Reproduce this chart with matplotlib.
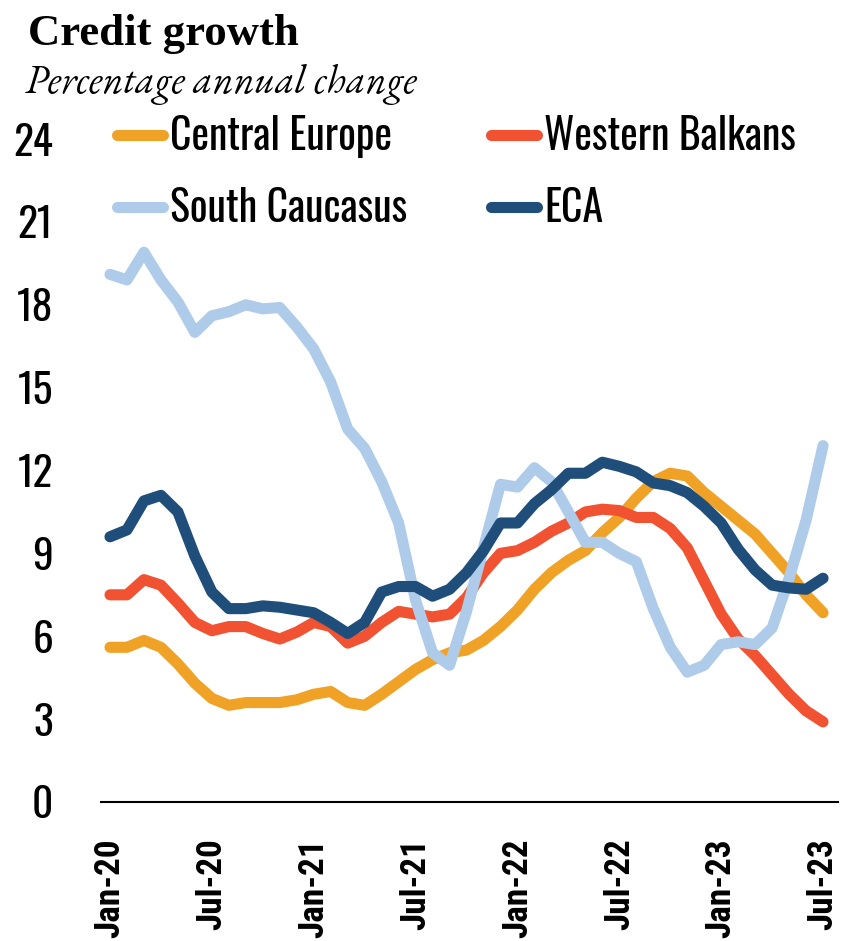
import matplotlib
matplotlib.use("Agg")
import matplotlib.pyplot as plt
from matplotlib import font_manager as fm
import numpy as np

# monthly data, Jan-20 .. Jul-23 (percentage annual change)
months = ["Jan-20", "Feb-20", "Mar-20", "Apr-20", "May-20", "Jun-20", "Jul-20", "Aug-20", "Sep-20", "Oct-20", "Nov-20", "Dec-20",
          "Jan-21", "Feb-21", "Mar-21", "Apr-21", "May-21", "Jun-21", "Jul-21", "Aug-21", "Sep-21", "Oct-21", "Nov-21", "Dec-21",
          "Jan-22", "Feb-22", "Mar-22", "Apr-22", "May-22", "Jun-22", "Jul-22", "Aug-22", "Sep-22", "Oct-22", "Nov-22", "Dec-22",
          "Jan-23", "Feb-23", "Mar-23", "Apr-23", "May-23", "Jun-23", "Jul-23"]

central_europe = [5.6, 5.6, 5.85, 5.6, 5.0, 4.3, 3.75, 3.5, 3.6, 3.6,
                  3.6, 3.7, 3.9, 4.0, 3.6, 3.5, 3.9, 4.35, 4.8, 5.15,
                  5.4, 5.5, 5.85, 6.35, 6.95, 7.7, 8.3, 8.75, 9.1, 9.75,
                  10.3, 11.0, 11.6, 11.9, 11.8, 11.2, 10.7, 10.2, 9.7, 9.0,
                  8.3, 7.5, 6.85]
western_balkans = [7.5, 7.5, 8.05, 7.85, 7.2, 6.5, 6.2, 6.35, 6.35, 6.1,
                   5.9, 6.15, 6.5, 6.35, 5.75, 6.0, 6.5, 6.9, 6.8, 6.7,
                   6.8, 7.4, 8.3, 9.0, 9.1, 9.4, 9.8, 10.1, 10.5, 10.6,
                   10.55, 10.3, 10.3, 9.9, 9.2, 8.0, 6.8, 5.9, 5.3, 4.6,
                   3.9, 3.3, 2.9]
south_caucasus = [19.1, 18.9, 19.9, 18.9, 18.1, 17.0, 17.6, 17.75, 18.0, 17.85,
                  17.9, 17.2, 16.4, 15.2, 13.5, 12.8, 11.6, 10.1, 7.3, 5.4,
                  4.95, 6.9, 9.2, 11.5, 11.4, 12.1, 11.6, 10.5, 9.4, 9.4,
                  9.0, 8.7, 7.0, 5.6, 4.7, 4.95, 5.7, 5.8, 5.7, 6.3,
                  8.1, 10.2, 12.9]
eca = [9.6, 9.85, 10.9, 11.1, 10.5, 8.9, 7.6, 7.0, 7.0, 7.1,
       7.05, 6.95, 6.85, 6.5, 6.1, 6.5, 7.6, 7.8, 7.8, 7.45,
       7.7, 8.3, 9.1, 10.1, 10.1, 10.8, 11.3, 11.9, 11.9, 12.3,
       12.15, 11.95, 11.55, 11.45, 11.2, 10.7, 10.1, 9.15, 8.4, 7.85,
       7.75, 7.7, 8.1]

series = ["Central Europe", "Western Balkans", "South Caucasus", "ECA"]
colors = ["#F0A226", "#F05232", "#AECBEA", "#1F4E7A"]
yticks = [0, 3, 6, 9, 12, 15, 18, 21, 24]

fonts = fm.fontManager.ttflist

def pick(cands, bold=False, italic=False):
    for c in cands:
        for f in fonts:
            if f.name != c:
                continue
            if bold and (f.weight if isinstance(f.weight, int) else 400) < 600:
                continue
            if italic and f.style != "italic":
                continue
            return c
    return "DejaVu Sans"

narrow = pick(["Oswald", "Roboto Condensed", "Sofia Sans Condensed", "Archivo Narrow", "PT Sans Narrow"])
narrow_bold = pick(["Roboto Condensed", "Archivo Narrow", "PT Sans Narrow", "Saira SemiCondensed", "Oswald"], bold=True)
serif_bold = pick(["EB Garamond", "Cormorant Garamond", "Cormorant", "Libre Caslon Text", "Liberation Serif"], bold=True)
serif_it = pick(["EB Garamond", "Cormorant Garamond", "Liberation Serif"], italic=True)

W, H = 852, 941
fig = plt.figure(figsize=(W / 100, H / 100), dpi=100)
ax = fig.add_axes([101 / W, 1 - 802 / H, 737 / W, 663 / H])
r = fig.canvas.get_renderer()

def fit(t, target, axis="w"):
    bb = t.get_window_extent(r)
    cur = bb.width if axis == "w" else bb.height
    t.set_fontsize(t.get_fontsize() * target / cur)

x = np.arange(len(months))
lines = {}
for name, vals, c in zip(series, [central_europe, western_balkans, south_caucasus, eca], colors):
    lines[name], = ax.plot(x, vals, color=c, lw=8, label=name,
                           solid_capstyle="round", solid_joinstyle="round")

ax.set_xlim(-0.53, 42.88)
ax.set_ylim(0, 24)
for s in ["top", "right", "left"]:
    ax.spines[s].set_visible(False)
ax.spines["bottom"].set_linewidth(1.5)
ax.spines["bottom"].set_color("black")

ax.set_yticks(yticks)
ax.set_yticklabels([str(v) for v in yticks], family=narrow, fontsize=30)
ax.tick_params(axis="y", length=0, pad=48 * 0.72)
ax.set_xticks(x[::6])
ax.set_xticklabels(months[::6], rotation=90, family=narrow_bold, fontweight="bold", fontsize=24)
ax.tick_params(axis="x", length=0, pad=36 * 0.72)
for lab in ax.get_xticklabels():
    lab.set_verticalalignment("top")

# scale tick fonts to the widths seen in the reference
ylabs = ax.get_yticklabels()
fit(ylabs[-1], 40)
for lab in ylabs:
    lab.set_fontsize(ylabs[-1].get_fontsize())
xlabs = ax.get_xticklabels()
fit(xlabs[0], 100, axis="h")
for lab in xlabs:
    lab.set_fontsize(xlabs[0].get_fontsize())

# title and subtitle
t1 = fig.text(28 / W, 1 - 45 / H, "Credit growth", fontsize=30, fontweight="bold",
              family=serif_bold, va="baseline", ha="left")
fit(t1, 270)
t2 = fig.text(25 / W, 1 - 93 / H, "Percentage annual change", fontsize=26, style="italic",
              family=serif_it, va="baseline", ha="left")
fit(t2, 392)

# legend: measure font first
probe = fig.text(0, 0, "Central Europe", family=narrow, fontsize=30)
fit(probe, 222)
fs = probe.get_fontsize()
probe.remove()
fspx = fs * 100 / 72
order = ["Central Europe", "South Caucasus", "Western Balkans", "ECA"]

def make_legend(ls, anchor):
    return ax.legend([lines[n] for n in order], order, ncol=2, loc="upper left",
                     bbox_to_anchor=anchor, bbox_transform=fig.transFigure,
                     frameon=False, borderpad=0, borderaxespad=0,
                     handlelength=46 / fspx, handletextpad=7 / fspx,
                     columnspacing=84 / fspx, labelspacing=ls,
                     prop=fm.FontProperties(family=narrow, size=fs))

ls = 0.5
anchor = (100 / W, 1 - 100 / H)
leg = make_legend(ls, anchor)
fig.canvas.draw()
tx = leg.get_texts()
gap = tx[0].get_window_extent(r).y0 - tx[1].get_window_extent(r).y0
ls += (72 - gap) / fspx
leg.remove()
leg = make_legend(ls, anchor)
fig.canvas.draw()
bb = leg.get_lines()[0].get_window_extent(r)
dx = 117 - bb.x0
dy = (H - 135) - (bb.y0 + bb.y1) / 2
anchor = (anchor[0] + dx / W, anchor[1] + dy / H)
leg.remove()
leg = make_legend(ls, anchor)
for h in leg.get_lines():
    h.set_linewidth(8)
    h.set_solid_capstyle("round")

fig.savefig("out.png", dpi=100)
